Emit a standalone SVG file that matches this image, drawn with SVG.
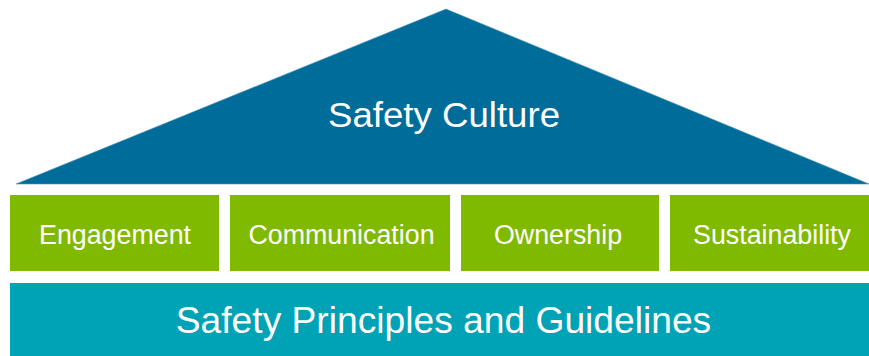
<svg xmlns="http://www.w3.org/2000/svg" width="869" height="356" viewBox="0 0 869 356">
<style>
.pillar{fill:#80BA00}
.lbl{fill:#fff;font-family:"Liberation Sans",Arial,sans-serif;text-anchor:middle}
.small{font-size:26.8px}
</style>
<rect width="869" height="356" fill="#fff"/>
<g id="roof">
<polygon points="16,184 446,9 869,184" fill="#006C9A" stroke="#4E95BB" stroke-width="0.6"/>
<text class="lbl" x="444" y="127" font-size="35" textLength="232" lengthAdjust="spacingAndGlyphs">Safety Culture</text>
</g>
<g id="engagement">
<rect class="pillar" x="10" y="195" width="209" height="76"/>
<text class="lbl small" x="115" y="243.5">Engagement</text>
</g>
<g id="communication">
<rect class="pillar" x="230" y="195" width="220" height="76"/>
<text class="lbl small" x="341.5" y="243.5">Communication</text>
</g>
<g id="ownership">
<rect class="pillar" x="461" y="195" width="198" height="76"/>
<text class="lbl small" x="558" y="243.5">Ownership</text>
</g>
<g id="sustainability">
<rect class="pillar" x="670" y="195" width="199" height="76"/>
<text class="lbl small" x="772" y="243.5">Sustainability</text>
</g>
<g id="foundation">
<rect x="10" y="283" width="859" height="73" fill="#00A3B5"/>
<text class="lbl" x="443.5" y="333" font-size="37.2">Safety Principles and Guidelines</text>
</g>
<g id="connectors"/>
</svg>
